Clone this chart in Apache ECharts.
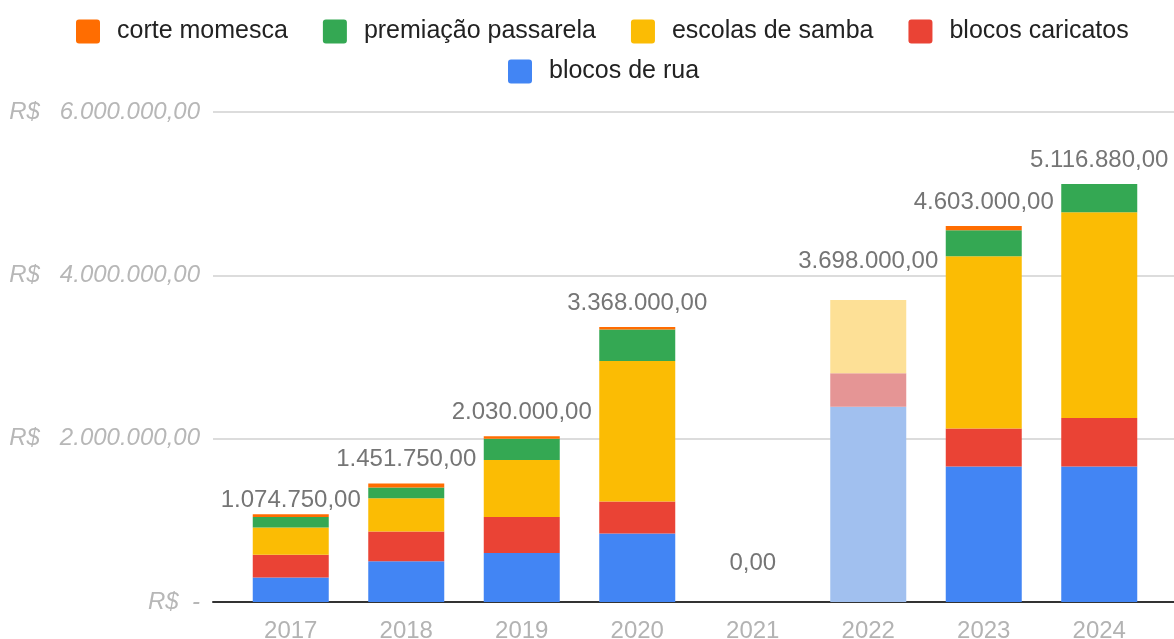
<!DOCTYPE html>
<html>
<head>
<meta charset="utf-8">
<script src="https://cdn.jsdelivr.net/npm/echarts@6/dist/echarts.min.js"></script>
<style>
  html, body { margin: 0; padding: 0; background: #fff; }
  #chart { width: 1174px; height: 639px; }
</style>
</head>
<body>
<div id="chart"></div>
<script>
'use strict';

// categorias e valores (R$)
const years = ['2017', '2018', '2019', '2020', '2021', '2022', '2023', '2024'];
const blocosDeRua      = [300000, 500000, 600000, 840000, 0, 2390000, 1660000, 1660000];
const blocosCaricatos  = [280000, 362000, 440000, 390000, 0, 410000, 465000, 593000];
const escolasDeSamba   = [333000, 409000, 700000, 1720000, 0, 898000, 2110000, 2520000];
const premiacao        = [127000, 130000, 260000, 388000, 0, 0, 318000, 343880];
const corteMomesca     = [34750, 50750, 30000, 30000, 0, 0, 50000, 0];
const yTicks = [0, 2000000, 4000000, 6000000];

// ano exibido esmaecido
const fadedYear = '2022';
// distância do rótulo de total acima da barra
const totalGap = [2, 12, 12, 12, 27, 27, 12, 12];

const FONT = '"Liberation Sans", Arial, sans-serif';
const SQUARE = 'path://M3,0 H21 Q24,0 24,3 V21 Q24,24 21,24 H3 Q0,24 0,21 V3 Q0,0 3,0 Z';

function brl(v) {
    const parts = v.toFixed(2).split('.');
    return parts[0].replace(/\B(?=(\d{3})+(?!\d))/g, '.') + ',' + parts[1];
}

const totals = years.map((_, i) =>
    blocosDeRua[i] + blocosCaricatos[i] + escolasDeSamba[i] + premiacao[i] + corteMomesca[i]);

function seriesFor(name, values, color, faded) {
    return {
        name: name,
        type: 'bar',
        stack: 'total',
        xAxisIndex: 1,
        yAxisIndex: 1,
        barWidth: 76,
        itemStyle: { color: color },
        data: values.map((v, i) => years[i] === fadedYear
            ? { value: v, itemStyle: { color: faded } }
            : v)
    };
}

const chart = echarts.init(document.getElementById('chart'));

const legendText = { fontSize: 25, color: '#222', fontFamily: FONT, padding: [0, 0, 0, 12] };

chart.setOption({
    animation: false,
    textStyle: { fontFamily: FONT },
    legend: [
        {
            data: ['corte momesca', 'premiação passarela', 'escolas de samba', 'blocos caricatos'],
            left: 71, top: 14,
            itemWidth: 24, itemHeight: 24, itemGap: 35,
            icon: SQUARE,
            textStyle: legendText
        },
        {
            data: ['blocos de rua'],
            left: 503, top: 54,
            itemWidth: 24, itemHeight: 24,
            icon: SQUARE,
            textStyle: legendText
        }
    ],
    grid: [
        { left: 213, right: 0, top: 112, bottom: 37, outerBoundsMode: 'none' },
        { left: 233, right: 17, top: 112, bottom: 37, outerBoundsMode: 'none' }
    ],
    xAxis: [
        {
            gridIndex: 0, type: 'category', data: [''],
            axisLine: { lineStyle: { color: '#333', width: 2 } },
            axisTick: { show: false }, axisLabel: { show: false }
        },
        {
            gridIndex: 1, type: 'category', data: years,
            axisLine: { show: false }, axisTick: { show: false },
            axisLabel: { color: '#b3b3b3', fontSize: 24, margin: 17, fontFamily: FONT }
        }
    ],
    yAxis: [
        {
            gridIndex: 0, type: 'value',
            min: yTicks[0], max: yTicks[yTicks.length - 1], interval: yTicks[1] - yTicks[0],
            axisLine: { show: false }, axisTick: { show: false },
            axisLabel: {
                color: '#b7b7b7', fontSize: 24, fontStyle: 'italic', margin: 13, fontFamily: FONT,
                formatter: v => v === 0 ? 'R$  -' : 'R$   ' + brl(v)
            },
            splitLine: { lineStyle: { color: '#d0d0d0', width: 1.5 } }
        },
        {
            gridIndex: 1, type: 'value',
            min: yTicks[0], max: yTicks[yTicks.length - 1], show: false,
            splitLine: { show: false }
        }
    ],
    series: [
        seriesFor('blocos de rua', blocosDeRua, '#4285f4', '#a1c0ef'),
        seriesFor('blocos caricatos', blocosCaricatos, '#ea4335', '#e59595'),
        seriesFor('escolas de samba', escolasDeSamba, '#fbbc04', '#fde096'),
        seriesFor('premiação passarela', premiacao, '#34a853', '#9fd3ab'),
        seriesFor('corte momesca', corteMomesca, '#ff6d01', '#ffb680'),
        {
            name: 'total',
            type: 'bar',
            stack: 'total',
            xAxisIndex: 1,
            yAxisIndex: 1,
            barWidth: 76,
            data: totals.map((t, i) => ({
                value: 0,
                label: {
                    show: true, position: 'top', distance: totalGap[i],
                    formatter: () => brl(t)
                }
            })),
            label: { color: '#757575', fontSize: 24, fontFamily: FONT },
            itemStyle: { color: 'transparent' }
        }
    ]
});
</script>
</body>
</html>
